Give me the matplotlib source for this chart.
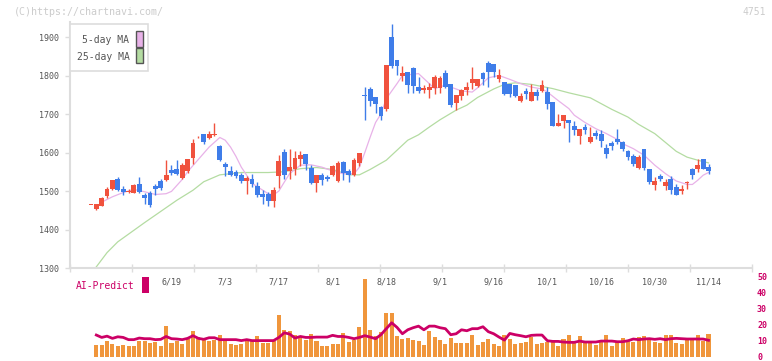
import numpy as np
import matplotlib
matplotlib.use("Agg")
import matplotlib.pyplot as plt
from matplotlib.patches import Rectangle

# daily candles, 5/29 .. 11/14 (index 0 .. 115)
opens = [1463, 1452, 1461, 1486, 1506, 1530, 1504, 1497, 1496, 1519,
         1490, 1495, 1512, 1527, 1528, 1554, 1556, 1534, 1551, 1587,
         1639, 1649, 1638, 1645, 1616, 1569, 1551, 1549, 1541, 1526,
         1530, 1513, 1491, 1491, 1473, 1538, 1601, 1552, 1558, 1583,
         1595, 1561, 1520, 1541, 1536, 1541, 1526, 1575, 1552, 1542,
         1572, 1748, 1764, 1743, 1717, 1713, 1899, 1840, 1800, 1808,
         1819, 1771, 1763, 1763, 1767, 1768, 1806, 1778, 1728, 1747,
         1762, 1781, 1773, 1806, 1833, 1829, 1790, 1782, 1779, 1775,
         1734, 1759, 1734, 1756, 1760, 1756, 1730, 1669, 1682, 1684,
         1668, 1643, 1666, 1626, 1651, 1647, 1613, 1625, 1636, 1627,
         1603, 1590, 1560, 1610, 1556, 1515, 1539, 1512, 1530, 1511,
         1500, 1522, 1556, 1558, 1584, 1562]
highs = [1463, 1467, 1484, 1510, 1529, 1536, 1512, 1504, 1517, 1536,
         1495, 1499, 1519, 1530, 1581, 1567, 1580, 1572, 1584, 1636,
         1643, 1649, 1655, 1677, 1620, 1575, 1564, 1554, 1548, 1538,
         1543, 1524, 1502, 1498, 1511, 1593, 1610, 1610, 1603, 1603,
         1595, 1567, 1541, 1548, 1541, 1567, 1577, 1578, 1557, 1587,
         1598, 1771, 1771, 1743, 1722, 1827, 1933, 1840, 1826, 1808,
         1821, 1795, 1775, 1780, 1801, 1800, 1814, 1778, 1750, 1766,
         1783, 1821, 1791, 1809, 1838, 1829, 1816, 1782, 1779, 1775,
         1755, 1768, 1777, 1766, 1788, 1769, 1731, 1701, 1698, 1685,
         1681, 1662, 1675, 1665, 1658, 1658, 1621, 1629, 1660, 1629,
         1606, 1595, 1593, 1610, 1556, 1536, 1545, 1532, 1539, 1517,
         1515, 1526, 1561, 1584, 1584, 1569]
lows = [1463, 1450, 1461, 1483, 1502, 1500, 1489, 1495, 1494, 1496,
        1467, 1458, 1489, 1502, 1526, 1541, 1541, 1530, 1548, 1571,
        1637, 1623, 1636, 1643, 1577, 1538, 1538, 1534, 1522, 1491,
        1511, 1485, 1465, 1461, 1459, 1508, 1532, 1532, 1541, 1564,
        1554, 1517, 1498, 1515, 1527, 1538, 1523, 1529, 1523, 1540,
        1566, 1685, 1722, 1702, 1685, 1708, 1820, 1801, 1786, 1754,
        1754, 1754, 1754, 1741, 1751, 1754, 1767, 1719, 1710, 1737,
        1749, 1766, 1769, 1776, 1770, 1796, 1782, 1749, 1743, 1743,
        1730, 1738, 1734, 1736, 1756, 1714, 1669, 1669, 1664, 1627,
        1645, 1621, 1649, 1624, 1636, 1614, 1587, 1606, 1621, 1604,
        1580, 1564, 1558, 1554, 1517, 1502, 1526, 1502, 1493, 1489,
        1493, 1506, 1532, 1549, 1558, 1543]
closes = [1463, 1466, 1482, 1506, 1528, 1503, 1498, 1499, 1516, 1498,
          1482, 1463, 1504, 1508, 1541, 1548, 1543, 1568, 1582, 1624,
          1641, 1627, 1649, 1648, 1580, 1562, 1541, 1538, 1526, 1534,
          1517, 1489, 1485, 1473, 1502, 1577, 1541, 1562, 1586, 1593,
          1569, 1520, 1541, 1528, 1530, 1564, 1572, 1546, 1542, 1581,
          1598, 1747, 1734, 1726, 1695, 1827, 1826, 1826, 1806, 1775,
          1773, 1760, 1767, 1771, 1795, 1794, 1771, 1723, 1749, 1763,
          1769, 1791, 1790, 1790, 1809, 1809, 1801, 1751, 1751, 1747,
          1746, 1751, 1756, 1747, 1775, 1727, 1669, 1676, 1698, 1676,
          1658, 1662, 1658, 1640, 1642, 1629, 1595, 1617, 1626, 1608,
          1588, 1569, 1588, 1560, 1523, 1526, 1532, 1523, 1502, 1489,
          1506, 1524, 1541, 1567, 1558, 1552]

volume = [None, 7.5, 7.5, 10, 8.1, 6.9, 7.5, 6.9, 6.9, 10,
          10, 8.8, 9.4, 6.3, 19.4, 8.8, 10, 8.1, 11.3, 16.3,
          12.5, 11.3, 10, 10.6, 13.8, 10.6, 8.1, 7.5, 8.1, 10.6,
          10, 13.1, 8.8, 8.8, 10, 26.3, 16.9, 16.3, 13.8, 11.9,
          10.6, 14.4, 10, 6.3, 6.9, 8.1, 8.1, 15, 9.4, 10.6,
          18.8, 49, 16.9, 13.1, 15.6, 27.5, 27.5, 13.1, 11.3, 11.9,
          10.6, 10, 7.5, 16.3, 12.5, 10.6, 8.1, 11.9, 8.8, 8.8,
          8.8, 13.8, 7.5, 9.4, 11.3, 8.1, 6.9, 13.8, 11.3, 8.1,
          8.8, 9.4, 12.5, 8.1, 8.8, 9.4, 10, 6.3, 11.3, 13.8,
          8.8, 13.1, 8.8, 8.8, 7.5, 9.4, 13.8, 6.9, 9.4, 11.9,
          10.6, 9.4, 12.5, 13.1, 10.6, 9.4, 8.8, 13.8, 13.8, 8.8,
          8.1, 11.3, 10.6, 13.8, 10, 14.4]

# AI-Predict, index 1 .. 115
ai_predict = [13.5, 12.0, 12.8, 11.4, 12.4, 12.0, 10.6, 10.6, 11.6, 11.2,
              11.2, 10.6, 10.8, 12.6, 11.2, 11.0, 10.6, 11.4, 13.1, 11.4,
              10.8, 11.8, 11.8, 10.6, 10.6, 10.6, 10.6, 10.0, 10.6, 10.0,
              10.0, 10.0, 10.0, 10.0, 12.0, 14.9, 14.1, 11.6, 12.6, 12.0,
              12.0, 12.2, 12.2, 12.2, 13.3, 12.6, 12.6, 12.0, 11.2, 12.0,
              13.1, 12.2, 11.2, 13.7, 17.5, 21.2, 18.3, 14.3, 16.8, 18.1,
              19.1, 16.8, 19.1, 19.1, 18.1, 17.5, 13.7, 14.3, 16.8, 16.2,
              17.5, 17.5, 18.7, 15.6, 14.3, 12.2, 10.3, 14.5, 13.7, 13.1,
              12.4, 13.3, 13.5, 13.5, 9.9, 9.5, 9.5, 9.1, 8.9, 8.9,
              9.7, 9.1, 9.1, 9.1, 9.7, 9.7, 9.7, 9.3, 9.3, 9.9,
              11.0, 10.6, 11.0, 11.2, 10.8, 11.2, 10.6, 11.2, 11.4, 11.2,
              11.0, 11.0, 11.0, 11.0, 10.2]

ma5_idx = [2, 4, 6, 8, 10, 12, 14, 15, 17, 18, 20, 22, 24, 25, 26, 27, 28, 30,
           33, 34, 35, 36, 37, 39, 41, 43, 45, 47, 49, 50, 51, 52, 53, 54, 55,
           57, 58, 61, 63, 64, 66, 69, 71, 72, 74, 76, 78, 80, 82, 84, 85, 87,
           89, 90, 92, 94, 96, 98, 99, 101, 103, 105, 107, 109, 111, 112, 113,
           114, 115]
ma5_val = [1471, 1485, 1496, 1504, 1498, 1491, 1493, 1499, 1530, 1550, 1582,
           1614, 1639, 1632, 1614, 1590, 1562, 1520, 1493, 1490, 1500, 1523,
           1545, 1567, 1568, 1562, 1552, 1545, 1545, 1562, 1600, 1640, 1678,
           1700, 1740, 1779, 1800, 1805, 1779, 1766, 1775, 1760, 1757, 1768,
           1794, 1800, 1790, 1779, 1770, 1765, 1757, 1735, 1714, 1697, 1678,
           1662, 1649, 1634, 1623, 1610, 1593, 1567, 1545, 1526, 1517, 1517,
           1528, 1541, 1548]

ma25_idx = [1, 3, 5, 7, 10, 13, 16, 19, 21, 24, 28, 33, 36, 39, 42, 45, 48,
            50, 52, 55, 57, 59, 61, 63, 65, 68, 70, 72, 75, 77, 79, 82, 86,
            89, 93, 97, 100, 102, 105, 107, 109, 111, 113, 115]
ma25_val = [1303, 1340, 1368, 1388, 1418, 1447, 1476, 1502, 1524, 1542, 1548,
            1548, 1550, 1558, 1561, 1556, 1542, 1542, 1556, 1580, 1606, 1632,
            1646, 1666, 1685, 1710, 1723, 1743, 1765, 1777, 1781, 1777, 1766,
            1755, 1742, 1712, 1692, 1673, 1649, 1626, 1603, 1588, 1580, 1573]

date_idx = [15, 25, 35, 45, 55, 65, 75, 85, 95, 105, 115]
date_labels = ["6/19", "7/3", "7/17", "8/1", "8/18", "9/1", "9/16",
               "10/1", "10/16", "10/30", "11/14"]
price_ticks = [1300, 1400, 1500, 1600, 1700, 1800, 1900]
ai_ticks = [0, 10, 20, 30, 40, 50]

RED = "#f0523e"
BLUE = "#3f7de9"
PINK = "#e8b2e8"
GREEN = "#b4dca2"
ORANGE = "#f0963c"
MAGENTA = "#cc0066"
GRID = "#dddddd"
TXT = "#555555"

plt.rcParams["font.family"] = ["DejaVu Sans Mono"]

W, H = 772, 361
fig = plt.figure(figsize=(W / 100, H / 100), dpi=100)


def fx(x):
    return x / W


def fy(y):
    return 1 - y / H


def px_axes(l, t, r, b):
    return fig.add_axes([fx(l), fy(b), (r - l) / W, (b - t) / H])


o = np.array(opens, float)
h = np.array(highs, float)
lo = np.array(lows, float)
c = np.array(closes, float)
x = np.arange(len(o))
xmin, xmax = -3.9, 123.1

# ---- volume / AI panel (drawn first, transparent, so the dates stay visible)
ax2 = px_axes(70, 277, 752, 356.5)
ax2.patch.set_visible(False)
ax2.bar(x, np.array(volume, float), width=0.75, color=ORANGE, lw=0)
ax2.plot(np.arange(1, len(ai_predict) + 1), ai_predict, color=MAGENTA, lw=2)
ax2.set_xlim(xmin, xmax)
ax2.set_ylim(0, 50)
for s in ax2.spines.values():
    s.set_visible(False)
ax2.set_xticks([])
ax2.yaxis.tick_right()
ax2.set_yticks(ai_ticks)
ax2.tick_params(axis="y", length=0, pad=3.6, labelsize=6, labelcolor=MAGENTA)
for t in ax2.get_yticklabels():
    t.set_fontweight("bold")

# ---- price panel
ax = px_axes(70, 22, 752, 268)
ax.patch.set_visible(False)
ax.plot(ma25_idx, ma25_val, color=GREEN, lw=0.9, zorder=1)
ax.plot(ma5_idx, ma5_val, color=PINK, lw=0.9, zorder=1)
cols = np.where(c >= o, RED, BLUE)
ax.vlines(x, lo, h, colors=cols, lw=1, zorder=2)
ax.bar(x, np.maximum(np.abs(c - o), 2.5), bottom=np.minimum(o, c),
       width=0.9, color=cols, lw=0, zorder=3)
ax.set_xlim(xmin, xmax)
ax.set_ylim(1300, 1939)
for s in ["top", "right"]:
    ax.spines[s].set_visible(False)
for s in ["left", "bottom"]:
    ax.spines[s].set_color(GRID)
    ax.spines[s].set_linewidth(1.5)
ax.set_yticks(price_ticks)
ax.tick_params(axis="y", direction="out", length=3.6, width=1, color=GRID,
               labelsize=6, labelcolor=TXT, pad=4)
ax.set_xticks(np.linspace(xmin, xmax, 12))
ax.set_xticklabels([])
ax.tick_params(axis="x", direction="inout", length=6, width=1, color=GRID)
for i, lab in zip(date_idx, date_labels):
    ax.text(i, -14 / 246, lab, transform=ax.get_xaxis_transform(),
            ha="center", va="center", fontsize=6, color=TXT, clip_on=False)

# ---- legend + labels
fig.patches.append(Rectangle((fx(70.3), fy(71)), (148.3 - 70.3) / W, 47 / H,
                             transform=fig.transFigure, fc="white",
                             ec=GRID, lw=1.2, zorder=5))
fig.text(fx(129.5), fy(40), "5-day MA", ha="right", va="center",
         fontsize=7, color=TXT, zorder=6)
fig.text(fx(129.5), fy(57), "25-day MA", ha="right", va="center",
         fontsize=7, color=TXT, zorder=6)
fig.patches.append(Rectangle((fx(136.3), fy(46.7)), 6.4 / W, 15.7 / H,
                             transform=fig.transFigure, fc=PINK,
                             ec=TXT, lw=1, zorder=6))
fig.patches.append(Rectangle((fx(136.3), fy(63.3)), 6.4 / W, 15 / H,
                             transform=fig.transFigure, fc=GREEN,
                             ec=TXT, lw=1, zorder=6))

fig.text(fx(76), fy(286), "AI-Predict", ha="left", va="center",
         fontsize=7, color=MAGENTA)
fig.patches.append(Rectangle((fx(142.3), fy(292.7)), 6.4 / W, 16 / H,
                             transform=fig.transFigure, fc=MAGENTA, lw=0))

fig.text(fx(14), fy(12), "(C)https://chartnavi.com/", ha="left", va="center",
         fontsize=7.2, color="#cccccc")
fig.text(fx(766), fy(12), "4751", ha="right", va="center",
         fontsize=7, color="#cccccc")

fig.savefig("out.png", dpi=100)
